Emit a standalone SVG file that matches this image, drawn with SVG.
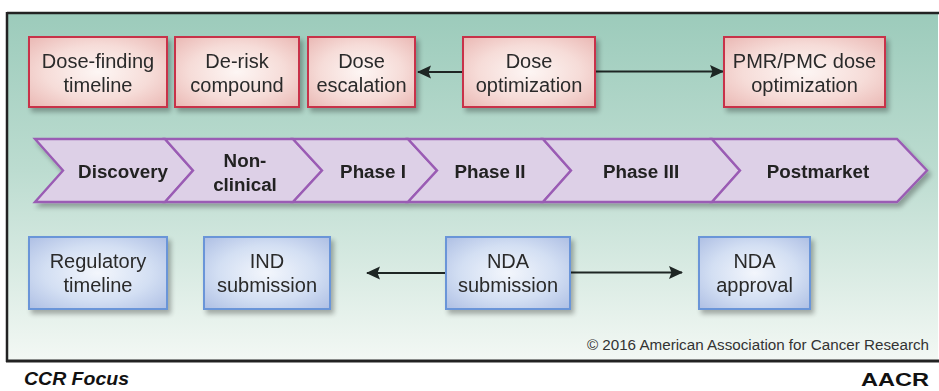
<svg xmlns="http://www.w3.org/2000/svg" width="939" height="391" viewBox="0 0 939 391">
<defs>
<linearGradient id="bg" x1="0" y1="0" x2="0" y2="1">
<stop offset="0" stop-color="#9ccbbb"/>
<stop offset="0.45" stop-color="#bcdcd0"/>
<stop offset="1" stop-color="#f3f8f4"/>
</linearGradient>
<radialGradient id="pinkFill" cx="0.5" cy="0.5" r="0.7">
<stop offset="0" stop-color="#fdf6f4"/>
<stop offset="0.55" stop-color="#f6dcd8"/>
<stop offset="1" stop-color="#eab8b4"/>
</radialGradient>
<radialGradient id="blueFill" cx="0.5" cy="0.5" r="0.7">
<stop offset="0" stop-color="#f3f6fc"/>
<stop offset="0.55" stop-color="#d3dff3"/>
<stop offset="1" stop-color="#aebfe4"/>
</radialGradient>
<filter id="shadow" x="-10%" y="-10%" width="125%" height="135%">
<feGaussianBlur in="SourceAlpha" stdDeviation="2.5"/>
<feOffset dx="3" dy="4" result="b"/>
<feComponentTransfer><feFuncA type="linear" slope="0.3"/></feComponentTransfer>
<feMerge><feMergeNode/><feMergeNode in="SourceGraphic"/></feMerge>
</filter>
<marker id="ah" viewBox="0 0 14 14" refX="13" refY="7" markerWidth="14" markerHeight="14" markerUnits="userSpaceOnUse" orient="auto-start-reverse">
<path d="M0,0.5 L14,7 L0,13.5 L2.5,7 Z" fill="#1e2624"/>
</marker>
</defs>
<style>
.pink{fill:url(#pinkFill);stroke:#c8334a;stroke-width:2}
.blue{fill:url(#blueFill);stroke:#6a95d8;stroke-width:2}
.chev{fill:#ddd0e7;stroke:#9a5cb4;stroke-width:2.4;stroke-linejoin:miter}
.lbl{font-family:"Liberation Sans",Arial,sans-serif;font-size:20px;fill:#2a2a2a;text-anchor:middle}
.clbl{font-family:"Liberation Sans",Arial,sans-serif;font-size:18.8px;font-weight:bold;fill:#222;text-anchor:middle}
.conn{stroke:#1e2624;stroke-width:2.2;fill:none}
</style>
<rect x="0" y="0" width="939" height="391" fill="#ffffff"/>
<rect x="7" y="13" width="931" height="348" fill="url(#bg)"/>
<line x1="7" y1="13" x2="939" y2="13" stroke="#222" stroke-width="2.5"/>
<line x1="7" y1="12" x2="7" y2="362" stroke="#222" stroke-width="2.5"/>
<line x1="6" y1="361" x2="939" y2="361" stroke="#222" stroke-width="3"/>

<g id="connectors">
<line class="conn" x1="463" y1="72" x2="418" y2="72" marker-end="url(#ah)"/>
<line class="conn" x1="595" y1="71.5" x2="723" y2="71.5" marker-end="url(#ah)"/>
<line class="conn" x1="446" y1="273" x2="367" y2="273" marker-end="url(#ah)"/>
<line class="conn" x1="570" y1="272.5" x2="682" y2="272.5" marker-end="url(#ah)"/>
</g>

<g id="node-dose-finding" filter="url(#shadow)">
<rect class="pink" x="29" y="37" width="138" height="70"/>
<text class="lbl" x="98" y="68">Dose-finding</text>
<text class="lbl" x="98" y="92">timeline</text>
</g>
<g id="node-derisk" filter="url(#shadow)">
<rect class="pink" x="175" y="37" width="124" height="70"/>
<text class="lbl" x="237" y="68">De-risk</text>
<text class="lbl" x="237" y="92">compound</text>
</g>
<g id="node-dose-escalation" filter="url(#shadow)">
<rect class="pink" x="308" y="37" width="107" height="70"/>
<text class="lbl" x="361.5" y="68">Dose</text>
<text class="lbl" x="361.5" y="92">escalation</text>
</g>
<g id="node-dose-optimization" filter="url(#shadow)">
<rect class="pink" x="463" y="37" width="132" height="70"/>
<text class="lbl" x="529" y="68">Dose</text>
<text class="lbl" x="529" y="92">optimization</text>
</g>
<g id="node-pmr" filter="url(#shadow)">
<rect class="pink" x="724" y="37" width="161" height="70"/>
<text class="lbl" x="804.5" y="68">PMR/PMC dose</text>
<text class="lbl" x="804.5" y="92">optimization</text>
</g>

<g id="phases" filter="url(#shadow)">
<g id="phase-discovery">
<polygon class="chev" points="35,139 165,139 193,170.5 165,202 35,202 63,170.5"/>
<text class="clbl" x="123" y="178">Discovery</text>
</g>
<g id="phase-nonclinical">
<polygon class="chev" points="165,139 293,139 322,170.5 293,202 165,202 193,170.5"/>
<text class="clbl" x="245" y="167">Non-</text>
<text class="clbl" x="245" y="191">clinical</text>
</g>
<g id="phase-1">
<polygon class="chev" points="293,139 408,139 437,170.5 408,202 293,202 322,170.5"/>
<text class="clbl" x="373" y="178">Phase I</text>
</g>
<g id="phase-2">
<polygon class="chev" points="408,139 543,139 571,170.5 543,202 408,202 437,170.5"/>
<text class="clbl" x="490" y="178">Phase II</text>
</g>
<g id="phase-3">
<polygon class="chev" points="543,139 712,139 740,170.5 712,202 543,202 571,170.5"/>
<text class="clbl" x="641" y="178">Phase III</text>
</g>
<g id="phase-postmarket">
<polygon class="chev" points="712,139 897,139 927,170.5 897,202 712,202 740,170.5"/>
<text class="clbl" x="818" y="178">Postmarket</text>
</g>
</g>

<g id="node-regulatory" filter="url(#shadow)">
<rect class="blue" x="29" y="237" width="138" height="72"/>
<text class="lbl" x="98" y="268">Regulatory</text>
<text class="lbl" x="98" y="292">timeline</text>
</g>
<g id="node-ind" filter="url(#shadow)">
<rect class="blue" x="204" y="237" width="126" height="72"/>
<text class="lbl" x="267" y="268">IND</text>
<text class="lbl" x="267" y="292">submission</text>
</g>
<g id="node-nda-submission" filter="url(#shadow)">
<rect class="blue" x="446" y="237" width="124" height="72"/>
<text class="lbl" x="508" y="268">NDA</text>
<text class="lbl" x="508" y="292">submission</text>
</g>
<g id="node-nda-approval" filter="url(#shadow)">
<rect class="blue" x="699" y="237" width="111" height="72"/>
<text class="lbl" x="754.5" y="268">NDA</text>
<text class="lbl" x="754.5" y="292">approval</text>
</g>

<text x="929" y="350" text-anchor="end" font-family="'Liberation Sans',Arial,sans-serif" font-size="15.2" fill="#333">© 2016 American Association for Cancer Research</text>
<text x="24" y="385" font-family="'Liberation Sans',Arial,sans-serif" font-size="18" font-weight="bold" font-style="italic" fill="#111" textLength="105" lengthAdjust="spacingAndGlyphs">CCR Focus</text>
<text x="861" y="386" font-family="'Liberation Sans',Arial,sans-serif" font-size="19" font-weight="bold" fill="#111" textLength="68" lengthAdjust="spacingAndGlyphs">AACR</text>
</svg>
